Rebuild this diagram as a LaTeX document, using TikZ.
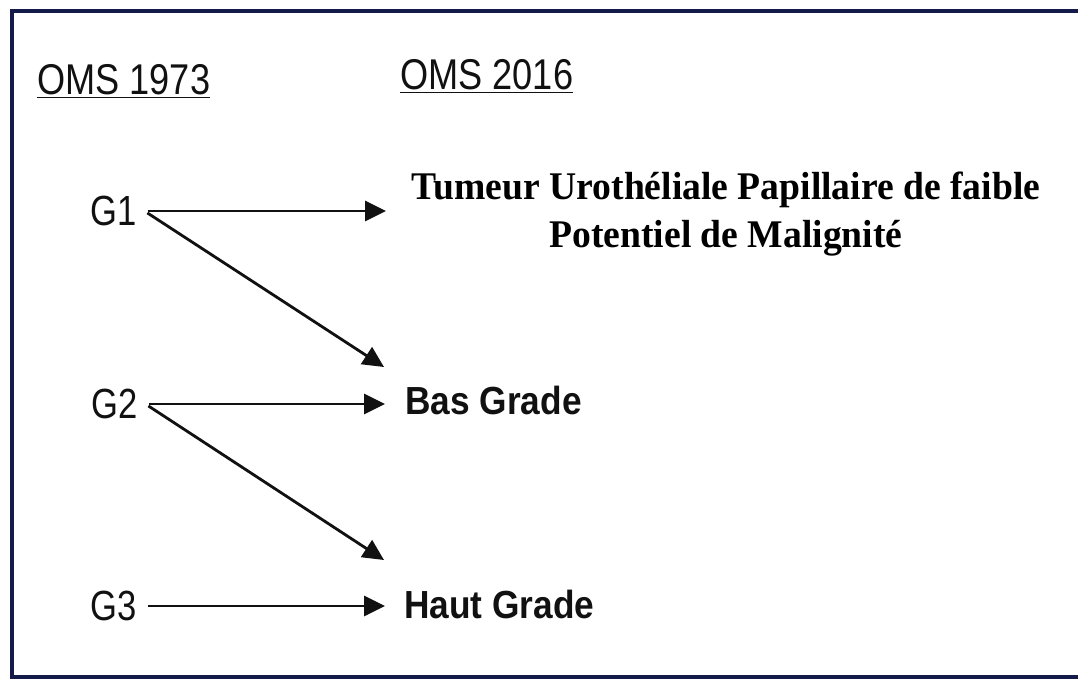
\documentclass[tikz,border=0pt]{standalone}
\usepackage{fontspec}
\usetikzlibrary{arrows.meta,positioning}
\setmainfont{Liberation Serif}
\newfontfamily\headfont[FakeStretch=0.84]{Liberation Sans}
\newfontfamily\grafont[FakeStretch=0.82]{Liberation Sans}
\newfontfamily\tagfont[FakeStretch=0.9]{Liberation Sans}
\newfontfamily\tupmfont[FakeStretch=0.96]{Liberation Serif}
\definecolor{Frame}{HTML}{141A4A}
\definecolor{Ink}{HTML}{111111}
\begin{document}
\begin{tikzpicture}[x=0.02cm,y=-0.02cm,
 head/.style={font=\headfont\fontsize{24.5}{28}\selectfont,text=Ink,inner sep=0pt},
 grade/.style={font=\grafont\fontsize{24}{28}\selectfont,text=Ink,inner sep=4pt},
 target/.style={font=\tagfont\bfseries\fontsize{22.3}{26}\selectfont,text=Ink,inner sep=0pt,anchor=west},
 label/.style={font=\tupmfont\bfseries\fontsize{22.3}{27.3}\selectfont,align=center,text=black},
 arrow/.style={-{Triangle[length=4.2mm,width=4mm]},line width=1.6pt,draw=Ink,shorten <=2pt}]
 \useasboundingbox (0,0) rectangle (1078,680);
 \draw[Frame,line width=2.3pt](1078,11)--(12,11)--(12,677)--(1078,677);
 \node[head,anchor=base west](old) at (37,94){\underline{OMS 1973}};
 \node[head,anchor=base west](new) at (400,89){\underline{OMS 2016}};
 \node[grade](g1) at (114,211){G1};
 \node[grade](g2) at (115,404){G2};
 \node[grade](g3) at (114,606){G3};
 \node[label](tupm) at (726,214){Tumeur Urothéliale Papillaire de faible\\Potentiel de Malignité};
 \node[target](bas) at (405,400){Bas Grade};
 \node[target](haut) at (404,604){Haut Grade};
 \coordinate (t1) at (386,211);
 \coordinate (t2) at (384,367);
 \coordinate (t3) at (384,560);
 \draw[arrow](g1.east)--(t1);\draw[arrow](g1.east)--(t2);
 \draw[arrow](g2.east)--([xshift=-0.4cm]bas.west|-g2.east);\draw[arrow](g2.east)--(t3);
 \draw[arrow](g3.east)--([xshift=-0.38cm]haut.west|-g3.east);
\end{tikzpicture}
\end{document}
